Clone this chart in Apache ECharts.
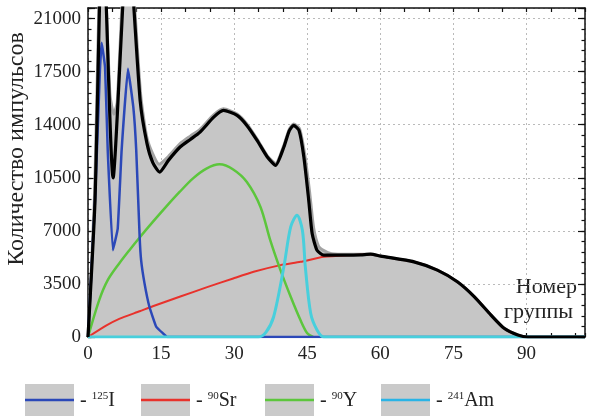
<!DOCTYPE html>
<html><head><meta charset="utf-8">
<script src="https://cdn.jsdelivr.net/npm/echarts@6/dist/echarts.min.js"></script>
<style>html,body{margin:0;padding:0;background:#fff}#c{width:592px;height:416px}</style>
</head><body><div id="c"></div>
<script>
// ---- data (x = group number, y = counts) ----
var sumX  = [0,1.44,3.0,5.15,8.2,10.7,12.1,13.3,14.7,16.5,18.9,21,23.0,25.8,27.8,30.6,32.6,34.7,36.8,38.5,40.2,41.3,42.2,43.3,44.3,45.3,46.0,47.0,48.4,53.2,56,58.0,60.1,66.9,71.7,75.8,79.3,82.7,85.4,88.2,90.3,102];
var sumY  = [0,9000,28000,10500,26500,15600,12770,11500,10880,11650,12530,13030,13515,14500,14943,14615,13956,12970,11870,11320,12530,13600,13956,13630,11870,9019,6827,5727,5398,5398,5420,5464,5332,4957,4411,3643,2653,1448,572,132,0,0];
var measX = [0,1.3,2.9,4.5,5.3,6.0,7.3,8.2,10.8,12.2,14.6,16.5,18.9,21,23.0,25.8,27.8,30.6,32.6,34.7,36.8,38.5,40.2,41.3,42.2,43.4,44.5,45.5,46.3,47.3,48.4,50,53.2,58.0,60.1,66.9,71.7,75.8,79.3,82.7,85.4,88.2,90.3,102];
var measY = [0,9000,28000,16000,14700,15500,24000,27000,16000,13000,11400,11900,12750,13250,13700,14650,15050,14700,14050,13050,11950,11450,12650,13700,14050,13750,12000,9500,7200,6000,5700,5500,5450,5464,5332,4957,4411,3643,2653,1448,572,132,0,0];
var iX  = [0,1.44,2.45,2.8,3.5,4.05,5.1,6.1,6.9,8.2,9.3,9.9,10.6,10.9,11.6,12.6,14.0,15.4,16.3,102];
var iY  = [0,9000,17600,19400,17790,12310,5727,7155,12310,17690,15160,12310,6600,5070,3535,1995,678,240,0,0];
var srX = [0,3.7,6.4,10.6,13.3,18.8,24.3,29.8,34.0,39.5,43.6,48.4,53.2,56,58.0,60.1,66.9,71.7,75.8,79.3,82.7,85.4,88.2,90.3,102];
var srY = [0,750,1200,1700,2030,2653,3270,3862,4300,4740,4957,5286,5398,5420,5464,5332,4957,4411,3643,2653,1448,572,132,0,0];
var yX  = [0,2.3,4.05,6.4,8.5,10.6,13.3,16.0,18.8,21.5,24.3,27.0,29.8,32.6,35.4,37.4,39.5,41.6,43.6,45.0,46.2];
var yY  = [0,2436,3752,4850,5727,6563,7590,8580,9565,10447,11105,11390,11050,10224,8580,6385,4411,2653,1119,243,0];
var amX = [0,35,36.5,38.1,40.2,41.6,42.9,44.0,44.6,45.7,47.0,48.4,102];
var amY = [0,0,300,1336,4630,7260,8030,7040,4630,1560,460,0,0];
var xTicks = [0,15,30,45,60,75,90];
var yTicks = [0,3500,7000,10500,14000,17500,21000];
var legendNames = [['125','I'],['90','Sr'],['90','Y'],['241','Am']];

function pairs(xs, ys){ return xs.map(function(x,i){ return [x, ys[i]]; }); }

var FONT = '"Liberation Serif", "DejaVu Serif", serif';
var colors = {i:'#2b48b8', sr:'#e8322c', y:'#5cc63c', am:'#48cfdc'};
var legendColors = [colors.i, colors.sr, colors.y, '#2ab4e6'];

var chart = echarts.init(document.getElementById('c'), null, {renderer:'canvas'});
var xCommon = {type:'value', min:0, max:102, gridIndex:0};
var yCommon = {type:'value', min:0, max:21700, gridIndex:0};

var graphic = [
  {type:'text', x:17, y:149, rotation:Math.PI/2, silent:true,
   style:{text:'Количество импульсов', font:'24px '+FONT, fill:'#222', textAlign:'center', textVerticalAlign:'middle'}},
  {type:'text', x:577, y:287, silent:true, style:{text:'Номер', font:'22px '+FONT, fill:'#222', textAlign:'right', textVerticalAlign:'middle'}},
  {type:'text', x:573, y:312, silent:true, style:{text:'группы', font:'22px '+FONT, fill:'#222', textAlign:'right', textVerticalAlign:'middle'}}
];
var legX = [25, 141, 265, 381];
legendNames.forEach(function(n, k){
  var x0 = legX[k];
  graphic.push({type:'rect', shape:{x:x0, y:384, width:49, height:40}, style:{fill:'#cacaca'}, silent:true});
  graphic.push({type:'line', shape:{x1:x0, y1:400, x2:x0+49, y2:400}, style:{stroke:legendColors[k], lineWidth:2.5}, silent:true});
  graphic.push({type:'text', x:x0+55, y:401, silent:true, style:{
    rich:{a:{font:'20px '+FONT, fill:'#222', verticalAlign:'bottom'}, s:{font:'11px '+FONT, fill:'#222', verticalAlign:'top'}},
    text:'{a|- }{s|'+n[0]+'}{a|'+n[1]+'}', textVerticalAlign:'middle'}});
});

var option = {
  animation:false,
  backgroundColor:'#fff',
  grid:{left:88, right:7, top:8, bottom:79, containLabel:false},
  xAxis:[
    Object.assign({}, xCommon, {position:'bottom', interval:15,
      axisLine:{show:true, onZero:false, lineStyle:{color:'#111', width:1.5}},
      axisTick:{show:false},
      axisLabel:{show:true, margin:8, color:'#222', fontFamily:FONT, fontSize:19,
        formatter:function(v){ return xTicks.indexOf(v) >= 0 ? String(v) : ''; }},
      splitLine:{show:true, lineStyle:{type:[2,3], color:'#bababa', width:1}}}),
    Object.assign({}, xCommon, {position:'bottom', interval:5,
      axisLine:{show:false, onZero:false}, axisTick:{show:true, inside:true, length:4, lineStyle:{color:'#111', width:1.2}},
      axisLabel:{show:false}, splitLine:{show:false}}),
    Object.assign({}, xCommon, {position:'top', interval:5,
      axisLine:{show:true, onZero:false, lineStyle:{color:'#111', width:1.5}}, axisTick:{show:true, inside:true, length:4, lineStyle:{color:'#111', width:1.2}},
      axisLabel:{show:false}, splitLine:{show:false}})
  ],
  yAxis:[
    Object.assign({}, yCommon, {position:'left', interval:3500,
      axisLine:{show:true, onZero:false, lineStyle:{color:'#111', width:1.5}},
      axisTick:{show:true, inside:true, length:7, lineStyle:{color:'#111', width:1.2}},
      axisLabel:{show:true, margin:7, color:'#222', fontFamily:FONT, fontSize:19,
        formatter:function(v){ return yTicks.indexOf(v) >= 0 ? String(v) : ''; }},
      splitLine:{show:true, lineStyle:{type:[2,3], color:'#bababa', width:1}}}),
    Object.assign({}, yCommon, {position:'left', interval:700,
      axisLine:{show:false, onZero:false}, axisTick:{show:true, inside:true, length:3.5, lineStyle:{color:'#111', width:1.2}},
      axisLabel:{show:false}, splitLine:{show:false}}),
    Object.assign({}, yCommon, {position:'right', interval:3500,
      axisLine:{show:true, onZero:false, lineStyle:{color:'#111', width:1.5}}, axisTick:{show:true, inside:true, length:7, lineStyle:{color:'#111', width:1.2}},
      axisLabel:{show:false}, splitLine:{show:false}}),
    Object.assign({}, yCommon, {position:'right', interval:700,
      axisLine:{show:false, onZero:false}, axisTick:{show:true, inside:true, length:3.5, lineStyle:{color:'#111', width:1.2}},
      axisLabel:{show:false}, splitLine:{show:false}})
  ],
  series:[
    {name:'measured', type:'line', data:pairs(measX, measY), showSymbol:false, smooth:0.2, clip:true,
     lineStyle:{color:'#a3a3a3', width:3}, areaStyle:{color:'#c6c6c6', opacity:1}, z:1},
    {name:'90Sr', type:'line', data:pairs(srX, srY), showSymbol:false, smooth:0.2, clip:true,
     lineStyle:{color:colors.sr, width:2}, z:2},
    {name:'90Y', type:'line', data:pairs(yX, yY), showSymbol:false, smooth:0.3, clip:true,
     lineStyle:{color:colors.y, width:2.5}, z:2},
    {name:'125I', type:'line', data:pairs(iX, iY), showSymbol:false, smooth:0.1, clip:true,
     lineStyle:{color:colors.i, width:2.5}, z:3},
    {name:'241Am', type:'line', data:pairs(amX, amY), showSymbol:false, smooth:0.3, clip:true,
     lineStyle:{color:colors.am, width:3}, z:3},
    {name:'sum', type:'line', data:pairs(sumX, sumY), showSymbol:false, smooth:0.2, clip:true,
     lineStyle:{color:'#000', width:3.2}, z:4}
  ],
  graphic: graphic
};
chart.setOption(option);
</script></body></html>
